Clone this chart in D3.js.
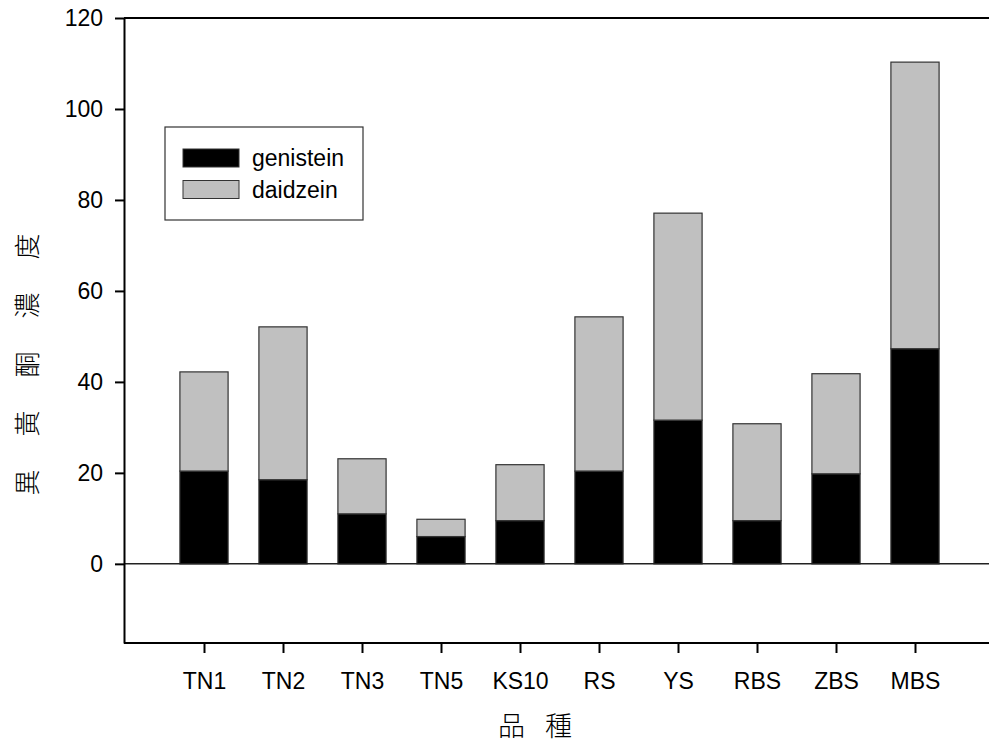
<!DOCTYPE html>
<html>
<head>
<meta charset="utf-8">
<script src="https://cdn.jsdelivr.net/npm/d3@7"></script>
<style>
  body { margin: 0; background: #fff; }
  text { font-family: "Liberation Sans", Arial, sans-serif; fill: #000; }
  .cjk { font-family: "Noto Sans CJK TC", sans-serif; font-weight: 300; }
</style>
</head>
<body>
<div id="chart"></div>
<script>
const varieties = ['TN1', 'TN2', 'TN3', 'TN5', 'KS10', 'RS', 'YS', 'RBS', 'ZBS', 'MBS'];
const genistein = [20.4, 18.5, 11.0, 6.0, 9.5, 20.4, 31.6, 9.5, 19.8, 47.3];
const daidzein = [21.8, 33.6, 12.1, 3.8, 12.3, 33.9, 45.5, 21.3, 22.0, 63.0];
const yTicks = [0, 20, 40, 60, 80, 100, 120];
const seriesNames = ['genistein', 'daidzein'];
const seriesColors = ['#000000', '#c0c0c0'];

const width = 989, height = 747;
const plot = {left: 124, right: 989, top: 18, bottom: 643};

const svg = d3.select('#chart').append('svg')
    .attr('width', width)
    .attr('height', height);

const y = d3.scaleLinear()
    .domain([-17.4, 120])
    .range([plot.bottom, plot.top]);

const x = d3.scalePoint()
    .domain(varieties)
    .range([204, 915]);
const barWidth = x.step() * 0.61;

// stacked data
const rows = varieties.map((v, i) => ({variety: v, genistein: genistein[i], daidzein: daidzein[i]}));
const stacked = d3.stack().keys(seriesNames)(rows);

// frame lines: top and bottom
svg.append('line')
    .attr('x1', plot.left).attr('x2', plot.right)
    .attr('y1', y(120)).attr('y2', y(120))
    .attr('stroke', '#000').attr('stroke-width', 2);
svg.append('line')
    .attr('x1', plot.left).attr('x2', plot.right)
    .attr('y1', y.range()[0]).attr('y2', y.range()[0])
    .attr('stroke', '#000').attr('stroke-width', 2);

// bars
svg.append('g').selectAll('g')
    .data(stacked)
    .join('g')
    .attr('fill', (d, i) => seriesColors[i])
    .selectAll('rect')
    .data(d => d)
    .join('rect')
    .attr('x', d => x(d.data.variety) - barWidth / 2)
    .attr('width', barWidth)
    .attr('y', d => y(d[1]))
    .attr('height', d => y(d[0]) - y(d[1]))
    .attr('stroke', '#333')
    .attr('stroke-width', 1.2);

// zero line
svg.append('line')
    .attr('x1', plot.left).attr('x2', plot.right)
    .attr('y1', y(0)).attr('y2', y(0))
    .attr('stroke', '#222').attr('stroke-width', 1.5);

// y axis
const yAxis = svg.append('g')
    .attr('transform', `translate(${plot.left},0)`)
    .call(d3.axisLeft(y).tickValues(yTicks).tickSize(9).tickSizeOuter(0).tickPadding(12));
yAxis.select('.domain').attr('stroke-width', 2);
yAxis.selectAll('.tick line').attr('stroke-width', 2);
yAxis.selectAll('.tick text').attr('font-size', 23).attr('font-family', '"Liberation Sans", Arial, sans-serif');

// x axis
const xAxis = svg.append('g')
    .attr('transform', `translate(0,${plot.bottom})`)
    .call(d3.axisBottom(x).tickSize(10).tickPadding(20));
xAxis.select('.domain').remove();
xAxis.selectAll('.tick line').attr('stroke-width', 2);
xAxis.selectAll('.tick text').attr('font-size', 23).attr('font-family', '"Liberation Sans", Arial, sans-serif');

// axis titles
svg.append('text')
    .attr('class', 'cjk')
    .attr('x', 545).attr('y', 736)
    .attr('text-anchor', 'middle')
    .attr('font-size', 27)
    .attr('letter-spacing', 20)
    .text('品種');

svg.append('text')
    .attr('class', 'cjk')
    .attr('transform', 'translate(37,348) rotate(-90)')
    .attr('text-anchor', 'middle')
    .attr('font-size', 26)
    .attr('letter-spacing', 33)
    .text('異黃酮濃度');

// legend
const legend = svg.append('g');
legend.append('rect')
    .attr('x', 165).attr('y', 127)
    .attr('width', 198).attr('height', 93)
    .attr('fill', '#fff')
    .attr('stroke', '#333').attr('stroke-width', 1.2);
seriesNames.forEach((name, i) => {
    legend.append('rect')
        .attr('x', 183).attr('y', 149 + i * 31.5)
        .attr('width', 56).attr('height', 18)
        .attr('fill', seriesColors[i])
        .attr('stroke', '#333').attr('stroke-width', 1);
    legend.append('text')
        .attr('x', 252).attr('y', 166 + i * 31.5)
        .attr('font-size', 23)
        .text(name);
});
</script>
</body>
</html>
